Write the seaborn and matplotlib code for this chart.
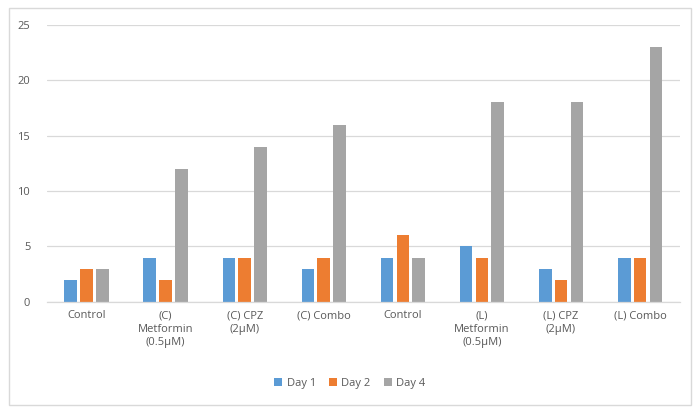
import matplotlib
matplotlib.use("Agg")
import matplotlib.pyplot as plt
import seaborn as sns
import pandas as pd
from matplotlib.patches import Rectangle

group_keys = ["Control C", "C Metformin", "C CPZ", "C Combo",
              "Control L", "L Metformin", "L CPZ", "L Combo"]
tick_labels = ["Control", "(C)\nMetformin\n(0.5µM)", "(C) CPZ\n(2µM)", "(C) Combo",
               "Control", "(L)\nMetformin\n(0.5µM)", "(L) CPZ\n(2µM)", "(L) Combo"]
series_names = ["Day 1", "Day 2", "Day 4"]
day1 = [2, 4, 4, 3, 4, 5, 3, 4]
day2 = [3, 2, 4, 4, 6, 4, 2, 4]
day4 = [3, 12, 14, 16, 4, 18, 18, 23]
colors = ["#5B9BD5", "#ED7D31", "#A5A5A5"]

rows = []
for name, vals in zip(series_names, [day1, day2, day4]):
    for g, v in zip(group_keys, vals):
        rows.append({"group": g, "series": name, "value": v})
df = pd.DataFrame(rows)

sns.set_theme(style="white")
plt.rcParams["font.family"] = ["Open Sans", "DejaVu Sans"]

fig = plt.figure(figsize=(7, 4.09), dpi=100)
fig.patch.set_facecolor("white")
ax = fig.add_axes([0.067, 0.262, 0.904, 0.677])

sns.barplot(data=df, x="group", y="value", hue="series", order=group_keys,
            hue_order=series_names, palette=colors, saturation=1, width=0.6, gap=0.2,
            linewidth=0, ax=ax, legend=True)

ax.set_ylim(0, 25)
ax.set_yticks([0, 5, 10, 15, 20, 25])
ax.set_xlim(-0.5, len(group_keys) - 0.5)
ax.set_xticks(range(len(group_keys)))
ax.set_xticklabels(tick_labels, fontsize=8, color="#595959", linespacing=1.3)
ax.tick_params(axis="y", labelsize=8, labelcolor="#595959", length=0, pad=12)
ax.tick_params(axis="x", length=0, pad=6)
ax.set_xlabel("")
ax.set_ylabel("")
ax.yaxis.grid(True, color="#D9D9D9", linewidth=0.9)
ax.set_axisbelow(True)
for s in ["top", "right", "left"]:
    ax.spines[s].set_visible(False)
ax.spines["bottom"].set_color("#D9D9D9")
ax.spines["bottom"].set_linewidth(0.9)

h, l = ax.get_legend_handles_labels()
ax.legend_.remove()
fig.legend(h, l, loc="center", bbox_to_anchor=(0.5, 0.063), ncol=3, frameon=False,
           fontsize=8, labelcolor="#595959", handlelength=0.7, handleheight=0.7,
           handletextpad=0.4, columnspacing=1.2)

fig.patches.append(Rectangle((0.013, 0.01), 0.974, 0.97, transform=fig.transFigure,
                             fill=False, edgecolor="#D9D9D9", linewidth=1))

fig.savefig("out.png", dpi=100)
